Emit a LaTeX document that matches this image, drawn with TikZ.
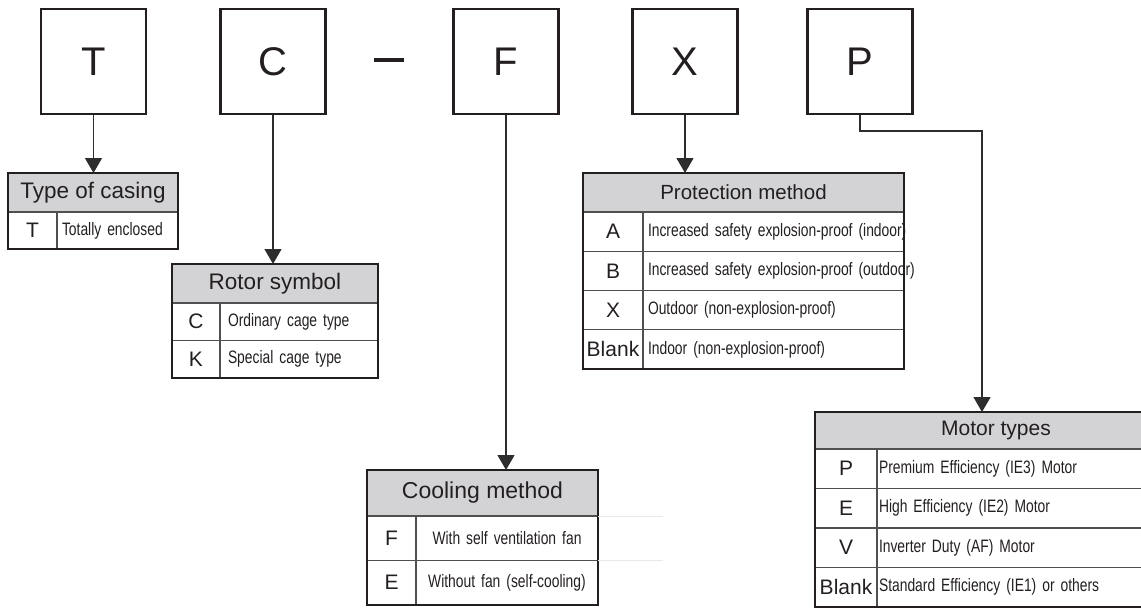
\documentclass[tikz,border=0pt]{standalone}
\usepackage{fontspec}
\setmainfont{Liberation Sans}
\newfontfamily\narrowfont[FakeStretch=0.77]{Liberation Sans}
\usetikzlibrary{arrows.meta, positioning, fit}
\definecolor{inkblack}{RGB}{35,31,32}
\definecolor{linegray}{RGB}{45,45,45}
\definecolor{cellgray}{RGB}{80,80,80}
\definecolor{headgray}{RGB}{211,211,213}
\definecolor{fadegray}{RGB}{232,232,232}
\newcommand\boxfont{\fontsize{40}{44}\selectfont}
\newcommand\headfont[1]{\fontsize{#1}{#1}\selectfont}
\newcommand\codefont{\fontsize{21}{24}\selectfont}
\newcommand\descfont{\narrowfont\fontsize{18}{20}\selectfont}
\tikzset{
  letterbox/.style={
    draw=inkblack,
    line width=2.6pt,
    minimum width=105pt,
    minimum height=105pt,
    inner sep=0pt,
    font=\boxfont,
    text=inkblack
  },
  cell/.style={draw=cellgray, line width=1.1pt, inner sep=0pt, outer sep=0pt, text=inkblack},
  head/.style={cell, fill=headgray, font=\headfont{#1}},
  codecell/.style={cell, font=\codefont},
  desccell/.style={cell, align=left, inner xsep=5pt, font=\descfont},
  tframe/.style={draw=inkblack, line width=2.2pt, inner sep=0pt, outer sep=0pt},
  arrow/.style={-{Triangle[width=17pt, length=15pt]}, line width=1.3pt, draw=linegray},
  fade/.style={draw=fadegray, line width=0.8pt}
}

\begin{document}
\begin{tikzpicture}[x=1pt, y=1pt]
  \useasboundingbox (0,0) rectangle (1141,-608);
  \clip (0,0) rectangle (1141,-608);

  % model code letters
  \node[letterbox] (boxT) at (93.5,-61.5) {T};
  \node[letterbox] (boxC) at (273,-61.5) {C};
  \node[fill=inkblack, minimum width=30pt, minimum height=3.5pt, inner sep=0pt] (dash) at (389,-60) {};
  \node[letterbox] (boxF) at (506,-61.5) {F};
  \node[letterbox] (boxX) at (685,-61.5) {X};
  \node[letterbox] (boxP) at (860,-61.5) {P};

  % type of casing
  \node[head=22.5, minimum width=170pt, minimum height=39pt] (hdrcase) at (93,-192.5) {Type of casing};
  \node[codecell, minimum width=49pt, minimum height=37pt, below right=0pt of hdrcase.south west] (codecaseT) {T};
  \node[desccell, text width=111pt, minimum height=37pt, right=0pt of codecaseT] (desccaseT) {Totally enclosed};
  \node[tframe, fit=(hdrcase)(codecaseT)(desccaseT)] (framecase) {};

  % rotor symbol
  \node[head=22.5, minimum width=206pt, minimum height=39pt] (hdrrotor) at (275,-283.5) {Rotor symbol};
  \node[codecell, minimum width=48pt, minimum height=37.5pt, below right=0pt of hdrrotor.south west] (coderotorC) {C};
  \node[desccell, inner xsep=8pt, text width=142pt, minimum height=37.5pt, right=0pt of coderotorC] (descrotorC) {Ordinary cage type};
  \node[codecell, minimum width=48pt, minimum height=37.5pt, below=0pt of coderotorC] (coderotorK) {K};
  \node[desccell, inner xsep=8pt, text width=142pt, minimum height=37.5pt, right=0pt of coderotorK] (descrotorK) {Special cage type};
  \node[tframe, fit=(hdrrotor)(coderotorK)(descrotorK)] (framerotor) {};

  % cooling method
  \node[head=23, minimum width=231pt, minimum height=46pt] (hdrcool) at (482.5,-493) {Cooling method};
  \node[codecell, minimum width=49pt, minimum height=44.5pt, below right=0pt of hdrcool.south west] (codecoolF) {F};
  \node[desccell, align=center, text width=172pt, minimum height=44.5pt, right=0pt of codecoolF] (desccoolF) {With self ventilation fan};
  \node[codecell, minimum width=49pt, minimum height=44.5pt, below=0pt of codecoolF] (codecoolE) {E};
  \node[desccell, align=center, text width=172pt, minimum height=44.5pt, right=0pt of codecoolE] (desccoolE) {Without fan (self-cooling)};
  \node[tframe, fit=(hdrcool)(codecoolE)(desccoolE)] (framecool) {};
  \draw[fade] (desccoolF.north east) -- ++(65,0);
  \draw[fade] (desccoolF.south east) -- ++(65,0);

  % protection method
  \node[head=20.5, minimum width=321pt, minimum height=39pt] (hdrprot) at (743.5,-192.5) {Protection method};
  \node[codecell, minimum width=60pt, minimum height=39.25pt, below right=0pt of hdrprot.south west] (codeprotA) {A};
  \node[desccell, text width=251pt, minimum height=39.25pt, right=0pt of codeprotA] (descprotA) {\mbox{Increased safety explosion-proof (indoor)}};
  \node[codecell, minimum width=60pt, minimum height=39.25pt, below=0pt of codeprotA] (codeprotB) {B};
  \node[desccell, text width=251pt, minimum height=39.25pt, right=0pt of codeprotB] (descprotB) {\mbox{Increased safety explosion-proof (outdoor)}};
  \node[codecell, minimum width=60pt, minimum height=39.25pt, below=0pt of codeprotB] (codeprotX) {X};
  \node[desccell, text width=251pt, minimum height=39.25pt, right=0pt of codeprotX] (descprotX) {Outdoor (non-explosion-proof)};
  \node[codecell, minimum width=60pt, minimum height=39.25pt, below=0pt of codeprotX] (codeprotN) {Blank};
  \node[desccell, text width=251pt, minimum height=39.25pt, right=0pt of codeprotN] (descprotN) {Indoor (non-explosion-proof)};
  \node[tframe, fit=(hdrprot)(codeprotN)(descprotN)] (frameprot) {};

  % motor types
  \node[head=21, minimum width=362pt, minimum height=37pt] (hdrmotor) at (996,-430.5) {Motor types};
  \node[codecell, minimum width=62pt, minimum height=39.5pt, below right=0pt of hdrmotor.south west] (codemotorP) {P};
  \node[desccell, inner xsep=2pt, text width=296pt, minimum height=39.5pt, right=0pt of codemotorP] (descmotorP) {Premium Efficiency (IE3) Motor};
  \node[codecell, minimum width=62pt, minimum height=39.5pt, below=0pt of codemotorP] (codemotorE) {E};
  \node[desccell, inner xsep=2pt, text width=296pt, minimum height=39.5pt, right=0pt of codemotorE] (descmotorE) {High Efficiency (IE2) Motor};
  \node[codecell, minimum width=62pt, minimum height=39.5pt, below=0pt of codemotorE] (codemotorV) {V};
  \node[desccell, inner xsep=2pt, text width=296pt, minimum height=39.5pt, right=0pt of codemotorV] (descmotorV) {Inverter Duty (AF) Motor};
  \node[codecell, minimum width=62pt, minimum height=39.5pt, below=0pt of codemotorV] (codemotorN) {Blank};
  \node[desccell, inner xsep=2pt, text width=296pt, minimum height=39.5pt, right=0pt of codemotorN] (descmotorN) {Standard Efficiency (IE1) or others};
  \node[tframe, fit=(hdrmotor)(codemotorN)(descmotorN)] (framemotor) {};

  \coordinate (pbend) at (982,-131);

  \draw[arrow] (boxT.south) -- (boxT.south |- hdrcase.north);
  \draw[arrow] (boxC.south) -- (boxC.south |- hdrrotor.north);
  \draw[arrow] (boxF.south) -- (boxF.south |- hdrcool.north);
  \draw[arrow] (boxX.south) -- (boxX.south |- hdrprot.north);
  \draw[arrow] (boxP.south) |- (pbend) -- (pbend |- hdrmotor.north);
\end{tikzpicture}
\end{document}
